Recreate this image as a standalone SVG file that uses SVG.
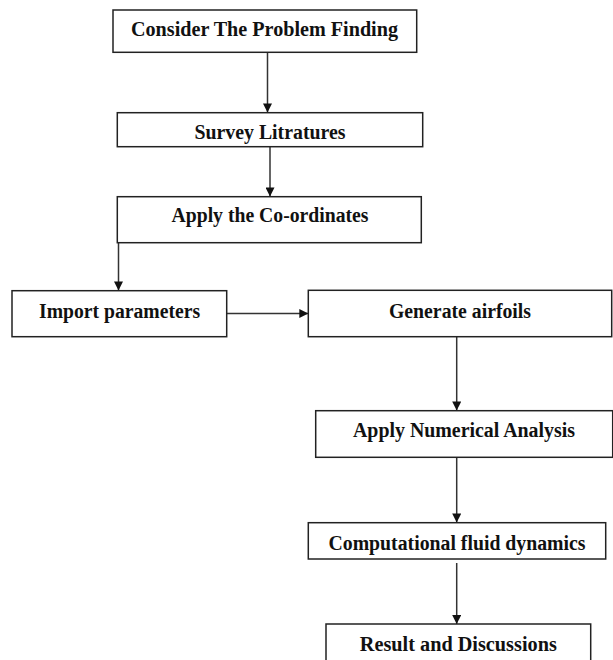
<svg xmlns="http://www.w3.org/2000/svg" width="613" height="660" viewBox="0 0 613 660">
<defs>
<style>
.box{fill:#fff;stroke:#222;stroke-width:1.5}
.lbl{font-family:"Liberation Serif","Times New Roman",serif;font-weight:bold;font-size:20px;fill:#111;text-anchor:middle}
.con{fill:none;stroke:#333;stroke-width:1.5}
</style>
<marker id="ah2" viewBox="0 0 10 10" refX="10" refY="5" markerWidth="10" markerHeight="9" markerUnits="userSpaceOnUse" orient="auto">
<path d="M0,0 L10,5 L0,10 Z" fill="#111"/>
</marker>
</defs>
<rect width="613" height="660" fill="#fff"/>
<g id="connectors">
<path class="con" d="M267.5,52.5 V112.5" marker-end="url(#ah2)"/>
<path class="con" d="M270,146.7 V196.5" marker-end="url(#ah2)"/>
<path class="con" d="M118.5,242.7 V290.5" marker-end="url(#ah2)"/>
<path class="con" d="M226.7,313.5 H308.3" marker-end="url(#ah2)"/>
<path class="con" d="M456.7,336.7 V410.5" marker-end="url(#ah2)"/>
<path class="con" d="M456.7,457.3 V522.5" marker-end="url(#ah2)"/>
<path class="con" d="M456.7,563 V624" marker-end="url(#ah2)"/>
</g>
<g id="n1"><rect class="box" x="113" y="10" width="303.7" height="42.3"/><text class="lbl" x="264.5" y="35.5" textLength="267" lengthAdjust="spacingAndGlyphs">Consider The Problem Finding</text></g>
<g id="n2"><rect class="box" x="117.3" y="112.7" width="305.4" height="34"/><text class="lbl" x="270" y="138.5" textLength="151" lengthAdjust="spacingAndGlyphs">Survey Litratures</text></g>
<g id="n3"><rect class="box" x="117.3" y="196.7" width="304" height="46"/><text class="lbl" x="270" y="222" textLength="197" lengthAdjust="spacingAndGlyphs">Apply the Co-ordinates</text></g>
<g id="n4"><rect class="box" x="12" y="290.7" width="214.7" height="46"/><text class="lbl" x="119.6" y="317.5" textLength="161" lengthAdjust="spacingAndGlyphs">Import parameters</text></g>
<g id="n5"><rect class="box" x="308.3" y="290.3" width="303.4" height="46.4"/><text class="lbl" x="460" y="317.5" textLength="142" lengthAdjust="spacingAndGlyphs">Generate airfoils</text></g>
<g id="n6"><rect class="box" x="315.7" y="410.7" width="297" height="46.6"/><text class="lbl" x="464" y="437" textLength="222" lengthAdjust="spacingAndGlyphs">Apply Numerical Analysis</text></g>
<g id="n7"><rect class="box" x="308.3" y="522.7" width="297.4" height="36.3"/><text class="lbl" x="457" y="549.5" textLength="257" lengthAdjust="spacingAndGlyphs">Computational fluid dynamics</text></g>
<g id="n8"><rect class="box" x="326" y="624" width="264.7" height="45"/><text class="lbl" x="458.3" y="650.5" textLength="197" lengthAdjust="spacingAndGlyphs">Result and Discussions</text></g>
</svg>
